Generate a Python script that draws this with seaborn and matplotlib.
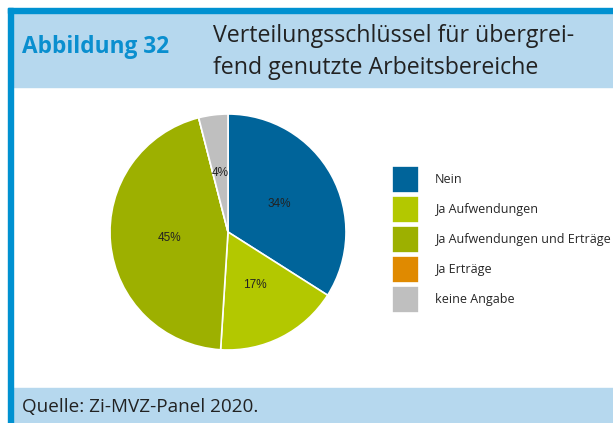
import matplotlib
matplotlib.use("Agg")
import matplotlib.pyplot as plt
from matplotlib.patches import Rectangle
import seaborn as sns

# data
categories = ["Nein", "Ja Aufwendungen", "Ja Aufwendungen und Erträge", "Ja Erträge", "keine Angabe"]
shares = [34, 17, 45, 0, 4]
colors = ["#00649a", "#b3c800", "#9db000", "#e08a00", "#bfbfbf"]

title_no = "Abbildung 32"
title_text = "Verteilungsschlüssel für übergrei-\nfend genutzte Arbeitsbereiche"
source = "Quelle: Zi-MVZ-Panel 2020."

sns.set_theme(style="white")
plt.rcParams["font.family"] = ["Open Sans", "DejaVu Sans"]

W, H = 613, 423
fig = plt.figure(figsize=(W / 100, H / 100), dpi=100)

def px(x, y):
    return x / W, 1 - y / H

border = "#0091d1"
light = "#b6d8ee"

# frame: header band, footer band, borders
fig.patches.append(Rectangle((13 / W, 1 - 87 / H), 1, 74 / H, transform=fig.transFigure, color=light, zorder=0))
fig.patches.append(Rectangle((13 / W, 0), 1, (H - 388) / H, transform=fig.transFigure, color=light, zorder=0))
fig.patches.append(Rectangle((8 / W, 1 - 13 / H), 1, 5 / H, transform=fig.transFigure, color=border, zorder=1))
fig.patches.append(Rectangle((8 / W, 0), 5 / W, 1 - 8 / H, transform=fig.transFigure, color=border, zorder=1))

fig.text(*px(22, 47), title_no, color="#0a8fcf", fontsize=16.3, fontweight="bold", va="center", ha="left")
fig.text(*px(213, 52), title_text, color="#222222", fontsize=16.7, va="center", ha="left", linespacing=1.42)
fig.text(*px(22, 407), source, color="#222222", fontsize=13.6, va="center", ha="left")

# pie
cx, cy, r = 228, 232, 118
ax = fig.add_axes([(cx - r) / W, 1 - (cy + r) / H, 2 * r / W, 2 * r / H])
wedges, _, autotexts = ax.pie(
    shares, colors=colors, startangle=90, counterclock=False,
    autopct=lambda p: f"{p:.0f}%" if p > 0 else "", pctdistance=0.5,
    wedgeprops=dict(edgecolor="white", linewidth=1.2),
    textprops=dict(fontsize=8.5, family="Liberation Sans", color="#222222"),
)
ax.set_xlim(-1, 1)
ax.set_ylim(-1, 1)
ax.axis("off")

fig.legend(
    wedges, categories, loc="upper left", bbox_to_anchor=px(392, 166),
    frameon=False, borderpad=0, borderaxespad=0,
    handlelength=2.16, handleheight=3.0, labelspacing=0.2, handletextpad=1.3,
    prop=dict(family="Open Sans", size=9),
)

fig.savefig("out.png", dpi=100)
